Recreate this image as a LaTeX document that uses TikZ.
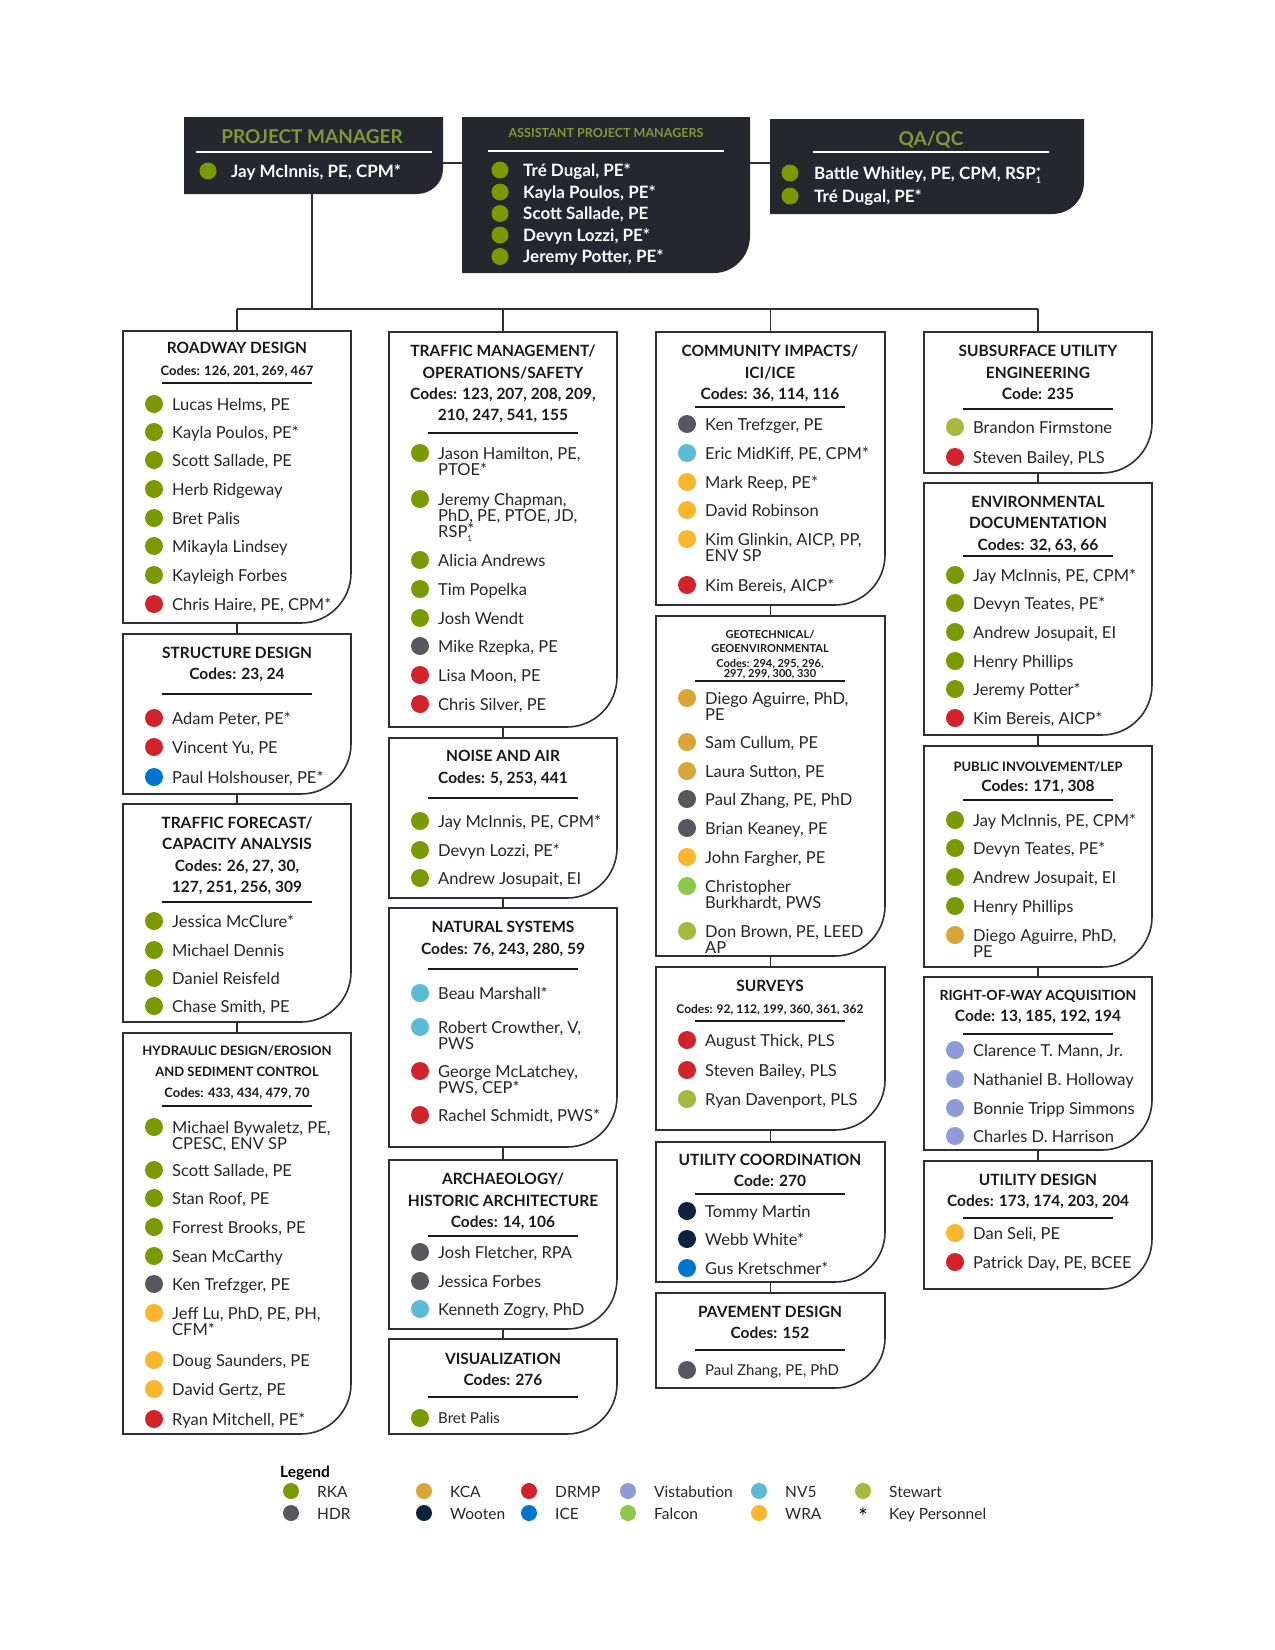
\documentclass[tikz,border=0pt]{standalone}
\usepackage{fontspec}
\setmainfont{Lato}
\usetikzlibrary{calc}
\definecolor{rka}{HTML}{7A9A01}
\definecolor{hdr}{HTML}{55595D}
\definecolor{kca}{HTML}{D9A536}
\definecolor{woo}{HTML}{0C2340}
\definecolor{drmp}{HTML}{D2232A}
\definecolor{ice}{HTML}{0075D0}
\definecolor{vis}{HTML}{8E9BD8}
\definecolor{fal}{HTML}{8CC84B}
\definecolor{nvf}{HTML}{5BBAD5}
\definecolor{wra}{HTML}{FDB52B}
\definecolor{stw}{HTML}{A6B83E}
\definecolor{dark}{HTML}{25272F}
\definecolor{bord}{HTML}{2E3038}
\definecolor{ttlg}{HTML}{7C9A3A}
\newcounter{nnc}
\newcommand\Mbx[6]{%
  \node[inner sep=0,minimum width={#4-#2},minimum height={#5-#3}] (#1) at ({(#2+#4)/2},{(#3+#5)/2}) {};
  \draw[boxline] (#2,#3) -- (#4,#3) -- (#4,{#5-#6}) .. controls (#4,{#5-0.45*#6}) and ({#4-0.45*#6},#5) .. ({#4-#6},#5) -- (#2,#5) -- cycle;}
\newcommand\Mtl[4]{\stepcounter{nnc}\node[#3,anchor=base] (n\arabic{nnc}) at ({#1+114},{#2+6}) {#4};}
\newcommand\Mrl[2]{\draw[rulel] ({#1+39},#2) -- ({#1+189},#2);}
\newcommand\Mpn[4]{\fill[#3] ({#1+31},#2) circle (9pt);
  \stepcounter{nnc}\node[nm,anchor=base west] (n\arabic{nnc}) at ({#1+49},{#2+6}) {#4};}
\newcommand\Mpnn[5]{\Mpn{#1}{#2}{#3}{#4}\stepcounter{nnc}\node[nm,anchor=base west] (n\arabic{nnc}) at ({#1+49},{#2+22}) {#5};}
\newcommand\Mlg[4]{\fill[#3] (#1,#2) circle (8pt);
  \stepcounter{nnc}\node[lgt,anchor=base west] (n\arabic{nnc}) at ({#1+26},{#2+6}) {#4};}
\begin{document}
\begin{tikzpicture}[x=1pt,y=-1pt,
  boxline/.style={draw=bord,line width=1.6pt,fill=white},
  rulel/.style={draw=black!90,line width=1.6pt},
  conn/.style={draw=bord,line width=1.6pt},
  nm/.style={inner sep=0,font=\fontsize{16.5}{18}\selectfont,text=black!85},
  nms/.style={inner sep=0,font=\fontsize{15}{17}\selectfont,text=black!85},
  ttl/.style={inner sep=0,font=\bfseries\fontsize{15.5}{18}\selectfont,text=black!90},
  ttls/.style={inner sep=0,font=\bfseries\fontsize{13}{15}\selectfont,text=black!90},
  ttlx/.style={inner sep=0,font=\bfseries\fontsize{11}{12}\selectfont,text=black!90},
  lgt/.style={inner sep=0,font=\fontsize{15.5}{18}\selectfont,text=black!85},
  wt/.style={inner sep=0,font=\bfseries\fontsize{17}{20}\selectfont,text=white},
]
\useasboundingbox (0,0) rectangle (1275,1650);
% ---------- top boxes ----------
\node[inner sep=0,minimum width=259,minimum height=77] (pm) at (313.5,155.5) {};
\fill[dark] (184,117) -- (443,117) -- (443,169) .. controls (443,183) and (431,194) .. (417,194) -- (184,194) -- cycle;
\node[inner sep=0,minimum width=288,minimum height=156] (apm) at (606,195) {};
\fill[dark] (462,117) -- (750,117) -- (750,236) .. controls (750,256) and (734,273) .. (714,273) -- (462,273) -- cycle;
\node[inner sep=0,minimum width=314,minimum height=95] (qa) at (927,166.5) {};
\fill[dark] (770,119) -- (1084,119) -- (1084,182) .. controls (1084,200) and (1070,214) .. (1052,214) -- (770,214) -- cycle;
\draw[conn] (pm.east |- 0,163) -- (apm.west |- 0,163);
\draw[conn] (apm.east |- 0,163) -- (qa.west |- 0,163);
\node[inner sep=0,anchor=base,font=\bfseries\fontsize{19}{22}\selectfont,text=ttlg] (pmt) at (312,143) {PROJECT MANAGER};
\draw[white,line width=1.5pt] (196,152) -- (432,152);
\fill[rka] (208,171) circle (8.5pt);
\node[wt,anchor=base west] (pmn) at (231,177) {Jay McInnis, PE, CPM*};
\node[inner sep=0,anchor=base,font=\bfseries\fontsize{12.5}{14}\selectfont,text=ttlg] (apmt) at (606,137) {ASSISTANT PROJECT MANAGERS};
\draw[white,line width=1.5pt] (488,151) -- (724,151);
\foreach \yy/\tt [count=\i] in {170/{Tré Dugal, PE*},192/{Kayla Poulos, PE*},213.5/{Scott Sallade, PE},235/{Devyn Lozzi, PE*},256.5/{Jeremy Potter, PE*}}{
  \fill[rka] (500,\yy) circle (8.5pt);
  \node[wt,anchor=base west] (apmn\i) at (523,\yy+6) {\tt};}
\node[inner sep=0,anchor=base,font=\bfseries\fontsize{19}{22}\selectfont,text=ttlg] (qat) at (931,145) {QA/QC};
\draw[white,line width=1.5pt] (813,152) -- (1049,152);
\fill[rka] (790,173) circle (8.5pt);
\node[wt,anchor=base west] (qan1) at (814,179) {Battle Whitley, PE, CPM, RSP\rlap{\raisebox{-4pt}{\fontsize{9}{9}\selectfont 1}}\raisebox{3pt}{\fontsize{12}{12}\selectfont *}};
\fill[rka] (790,196) circle (8.5pt);
\node[wt,anchor=base west] (qan2) at (814,202) {Tré Dugal, PE*};
% ---------- column boxes ----------
\Mbx{rd}{123}{331}{351}{623}{50}
\Mbx{sd}{123}{634}{351}{794}{50}
\Mbx{tf}{123}{804}{351}{1022}{50}
\Mbx{hd}{123}{1033}{351}{1434}{50}
\Mbx{tm}{389}{332}{617}{727}{50}
\Mbx{na}{389}{738}{617}{898}{50}
\Mbx{ns}{389}{908}{617}{1147}{50}
\Mbx{ar}{389}{1160}{617}{1329}{50}
\Mbx{vz}{389}{1339}{617}{1434}{50}
\Mbx{ci}{656}{332}{885}{605}{50}
\Mbx{ge}{656}{616}{885}{956}{50}
\Mbx{sv}{656}{967}{885}{1130}{50}
\Mbx{uc}{656}{1142}{885}{1282}{50}
\Mbx{pd}{656}{1293}{885}{1388}{50}
\Mbx{su}{924}{332}{1152}{473}{50}
\Mbx{ed}{924}{483}{1152}{735}{50}
\Mbx{pi}{924}{746}{1152}{967}{50}
\Mbx{rw}{924}{977}{1152}{1150}{50}
\Mbx{ud}{924}{1161}{1152}{1289}{50}
% ---------- connectors ----------
\coordinate (bus) at (312,309);
\draw[conn] (pm.south -| bus) -- (bus);
\draw[conn] (rd.north |- bus) -- (su.north |- bus);
\foreach \b in {rd,tm,ci,su}{\draw[conn] (\b.north |- bus) -- (\b.north);}
\foreach \a/\b in {rd/sd,sd/tf,tf/hd,tm/na,na/ns,ns/ar,ar/vz,ci/ge,ge/sv,sv/uc,uc/pd,su/ed,ed/pi,pi/rw,rw/ud}{\draw[conn] (\a.south) -- (\b.north);}
% ---------- col1 content ----------
\Mtl{123}{347}{ttl}{ROADWAY DESIGN}
\Mtl{123}{369}{ttls}{Codes: 126, 201, 269, 467}
\Mrl{123}{383}
\Mpn{123}{404}{rka}{Lucas Helms, PE}
\Mpn{123}{432}{rka}{Kayla Poulos, PE*}
\Mpn{123}{460}{rka}{Scott Sallade, PE}
\Mpn{123}{489}{rka}{Herb Ridgeway}
\Mpn{123}{518}{rka}{Bret Palis}
\Mpn{123}{546}{rka}{Mikayla Lindsey}
\Mpn{123}{575}{rka}{Kayleigh Forbes}
\Mpn{123}{604}{drmp}{Chris Haire, PE, CPM*}
\Mtl{123}{652}{ttl}{STRUCTURE DESIGN}
\Mtl{123}{673}{ttl}{Codes: 23, 24}
\Mrl{123}{694}
\Mpn{123}{718}{drmp}{Adam Peter, PE*}
\Mpn{123}{747}{drmp}{Vincent Yu, PE}
\Mpn{123}{777}{ice}{Paul Holshouser, PE*}
\Mtl{123}{822}{ttl}{TRAFFIC FORECAST/}
\Mtl{123}{843}{ttl}{CAPACITY ANALYSIS}
\Mtl{123}{865}{ttl}{Codes: 26, 27, 30,}
\Mtl{123}{886}{ttl}{127, 251, 256, 309}
\Mrl{123}{902}
\Mpn{123}{921}{rka}{Jessica McClure*}
\Mpn{123}{950}{rka}{Michael Dennis}
\Mpn{123}{978}{rka}{Daniel Reisfeld}
\Mpn{123}{1006}{rka}{Chase Smith, PE}
\Mtl{123}{1049}{ttls}{HYDRAULIC DESIGN/EROSION}
\Mtl{123}{1070}{ttls}{AND SEDIMENT CONTROL}
\Mtl{123}{1091}{ttls}{Codes: 433, 434, 479, 70}
\Mrl{123}{1106}
\Mpnn{123}{1127}{rka}{Michael Bywaletz, PE,}{CPESC, ENV SP}
\Mpn{123}{1170}{rka}{Scott Sallade, PE}
\Mpn{123}{1198}{rka}{Stan Roof, PE}
\Mpn{123}{1227}{rka}{Forrest Brooks, PE}
\Mpn{123}{1256}{rka}{Sean McCarthy}
\Mpn{123}{1284}{hdr}{Ken Trefzger, PE}
\Mpnn{123}{1313}{wra}{Jeff Lu, PhD, PE, PH,}{CFM*}
\Mpn{123}{1360}{wra}{Doug Saunders, PE}
\Mpn{123}{1389}{wra}{David Gertz, PE}
\Mpn{123}{1419}{drmp}{Ryan Mitchell, PE*}
% ---------- col2 content ----------
\Mtl{389}{350}{ttl}{TRAFFIC MANAGEMENT/}
\Mtl{389}{372}{ttl}{OPERATIONS/SAFETY}
\Mtl{389}{393}{ttl}{Codes: 123, 207, 208, 209,}
\Mtl{389}{414}{ttl}{210, 247, 541, 155}
\Mrl{389}{433}
\Mpnn{389}{453}{rka}{Jason Hamilton, PE,}{PTOE*}
\Mpnn{389}{499}{rka}{Jeremy Chapman,}{PhD, PE, PTOE, JD,}
\node[nm,anchor=base west] (rsp) at (438,537) {RSP\rlap{\raisebox{-4pt}{\fontsize{8}{8}\selectfont 1}}\raisebox{2pt}{*}};
\Mpn{389}{560}{rka}{Alicia Andrews}
\Mpn{389}{589}{rka}{Tim Popelka}
\Mpn{389}{618}{rka}{Josh Wendt}
\Mpn{389}{646}{hdr}{Mike Rzepka, PE}
\Mpn{389}{675}{drmp}{Lisa Moon, PE}
\Mpn{389}{704}{drmp}{Chris Silver, PE}
\Mtl{389}{755}{ttl}{NOISE AND AIR}
\Mtl{389}{777}{ttl}{Codes: 5, 253, 441}
\Mrl{389}{798}
\Mpn{389}{821}{rka}{Jay McInnis, PE, CPM*}
\Mpn{389}{850}{rka}{Devyn Lozzi, PE*}
\Mpn{389}{878}{rka}{Andrew Josupait, EI}
\Mtl{389}{926}{ttl}{NATURAL SYSTEMS}
\Mtl{389}{948}{ttl}{Codes: 76, 243, 280, 59}
\Mrl{389}{969}
\Mpn{389}{993}{nvf}{Beau Marshall*}
\Mpnn{389}{1027}{nvf}{Robert Crowther, V,}{PWS}
\Mpnn{389}{1071}{drmp}{George McLatchey,}{PWS, CEP*}
\Mpn{389}{1115}{drmp}{Rachel Schmidt, PWS*}
\Mtl{389}{1178}{ttl}{ARCHAEOLOGY/}
\Mtl{389}{1200}{ttl}{HISTORIC ARCHITECTURE}
\Mtl{389}{1221}{ttl}{Codes: 14, 106}
\Mrl{389}{1236}
\Mpn{389}{1252}{hdr}{Josh Fletcher, RPA}
\Mpn{389}{1281}{hdr}{Jessica Forbes}
\Mpn{389}{1309}{nvf}{Kenneth Zogry, PhD}
\Mtl{389}{1358}{ttl}{VISUALIZATION}
\Mtl{389}{1379}{ttl}{Codes: 276}
\Mrl{389}{1397}
\fill[rka] (420,1418) circle (9pt);
\node[nms,anchor=base west] (bp) at (438,1423) {Bret Palis};
% ---------- col3 content ----------
\Mtl{656}{350}{ttl}{COMMUNITY IMPACTS/}
\Mtl{656}{372}{ttl}{ICI/ICE}
\Mtl{656}{393}{ttl}{Codes: 36, 114, 116}
\Mrl{656}{407}
\Mpn{656}{424}{hdr}{Ken Trefzger, PE}
\Mpn{656}{453}{nvf}{Eric MidKiff, PE, CPM*}
\Mpn{656}{482}{wra}{Mark Reep, PE*}
\Mpn{656}{510}{wra}{David Robinson}
\Mpnn{656}{539}{wra}{Kim Glinkin, AICP, PP,}{ENV SP}
\Mpn{656}{585}{drmp}{Kim Bereis, AICP*}
\Mtl{656}{632}{ttlx}{GEOTECHNICAL/}
\Mtl{656}{646}{ttlx}{GEOENVIRONMENTAL}
\Mtl{656}{661}{ttlx}{Codes: 294, 295, 296,}
\Mtl{656}{671}{ttlx}{297, 299, 300, 330}
\Mrl{656}{681}
\Mpnn{656}{698}{kca}{Diego Aguirre, PhD,}{PE}
\Mpn{656}{742}{kca}{Sam Cullum, PE}
\Mpn{656}{771}{kca}{Laura Sutton, PE}
\Mpn{656}{799}{hdr}{Paul Zhang, PE, PhD}
\Mpn{656}{828}{hdr}{Brian Keaney, PE}
\Mpn{656}{857}{wra}{John Fargher, PE}
\Mpnn{656}{886}{fal}{Christopher}{Burkhardt, PWS}
\Mpnn{656}{931}{stw}{Don Brown, PE, LEED}{AP}
\Mtl{656}{985}{ttl}{SURVEYS}
\Mtl{656}{1007}{ttlx}{\fontsize{12}{14}\selectfont Codes: 92, 112, 199, 360, 361, 362}
\Mrl{656}{1021}
\Mpn{656}{1040}{drmp}{August Thick, PLS}
\Mpn{656}{1070}{drmp}{Steven Bailey, PLS}
\Mpn{656}{1099}{stw}{Ryan Davenport, PLS}
\Mtl{656}{1159}{ttl}{UTILITY COORDINATION}
\Mtl{656}{1180}{ttl}{Code: 270}
\Mrl{656}{1194}
\Mpn{656}{1211}{woo}{Tommy Martin}
\Mpn{656}{1239}{woo}{Webb White*}
\Mpn{656}{1268}{ice}{Gus Kretschmer*}
\Mtl{656}{1311}{ttl}{PAVEMENT DESIGN}
\Mtl{656}{1332}{ttl}{Codes: 152}
\Mrl{656}{1350}
\fill[hdr] (687,1370) circle (9pt);
\node[nms,anchor=base west] (pz) at (705,1375) {Paul Zhang, PE, PhD};
% ---------- col4 content ----------
\Mtl{924}{350}{ttl}{SUBSURFACE UTILITY}
\Mtl{924}{372}{ttl}{ENGINEERING}
\Mtl{924}{393}{ttl}{Code: 235}
\Mrl{924}{409}
\Mpn{924}{427}{stw}{Brandon Firmstone}
\Mpn{924}{457}{drmp}{Steven Bailey, PLS}
\Mtl{924}{501}{ttl}{ENVIRONMENTAL}
\Mtl{924}{522}{ttl}{DOCUMENTATION}
\Mtl{924}{544}{ttl}{Codes: 32, 63, 66}
\Mrl{924}{556}
\Mpn{924}{575}{rka}{Jay McInnis, PE, CPM*}
\Mpn{924}{603}{rka}{Devyn Teates, PE*}
\Mpn{924}{632}{rka}{Andrew Josupait, EI}
\Mpn{924}{661}{rka}{Henry Phillips}
\Mpn{924}{689}{rka}{Jeremy Potter*}
\Mpn{924}{718}{drmp}{Kim Bereis, AICP*}
\Mtl{924}{765}{ttls}{PUBLIC INVOLVEMENT/LEP}
\Mtl{924}{785}{ttl}{Codes: 171, 308}
\Mrl{924}{800}
\Mpn{924}{820}{rka}{Jay McInnis, PE, CPM*}
\Mpn{924}{848}{rka}{Devyn Teates, PE*}
\Mpn{924}{877}{rka}{Andrew Josupait, EI}
\Mpn{924}{906}{rka}{Henry Phillips}
\Mpnn{924}{935}{kca}{Diego Aguirre, PhD,}{PE}
\Mtl{924}{994}{ttls}{\fontsize{14}{16}\selectfont RIGHT-OF-WAY ACQUISITION}
\Mtl{924}{1015}{ttl}{Code: 13, 185, 192, 194}
\Mrl{924}{1034}
\Mpn{924}{1050}{vis}{Clarence T. Mann, Jr.}
\Mpn{924}{1079}{vis}{Nathaniel B. Holloway}
\Mpn{924}{1108}{vis}{Bonnie Tripp Simmons}
\Mpn{924}{1136}{vis}{Charles D. Harrison}
\Mtl{924}{1179}{ttl}{UTILITY DESIGN}
\Mtl{924}{1200}{ttl}{Codes: 173, 174, 203, 204}
\Mrl{924}{1218}
\Mpn{924}{1233}{wra}{Dan Seli, PE}
\Mpn{924}{1262}{drmp}{Patrick Day, PE, BCEE}
% ---------- legend ----------
\node[inner sep=0,anchor=base west,font=\bfseries\fontsize{15.5}{18}\selectfont] (lgd) at (280,1477) {Legend};
\Mlg{291}{1491}{rka}{RKA}
\Mlg{291}{1513}{hdr}{HDR}
\Mlg{424}{1491}{kca}{KCA}
\Mlg{424}{1513}{woo}{Wooten}
\Mlg{529}{1491}{drmp}{DRMP}
\Mlg{529}{1513}{ice}{ICE}
\Mlg{628}{1491}{vis}{Vistabution}
\Mlg{628}{1513}{fal}{Falcon}
\Mlg{759}{1491}{nvf}{NV5}
\Mlg{759}{1513}{wra}{WRA}
\Mlg{863}{1491}{stw}{Stewart}
\node[inner sep=0,font=\fontsize{22}{22}\selectfont] (ast) at (863,1516) {*};
\node[lgt,anchor=base west] (kp) at (889,1519) {Key Personnel};
\end{tikzpicture}
\end{document}
